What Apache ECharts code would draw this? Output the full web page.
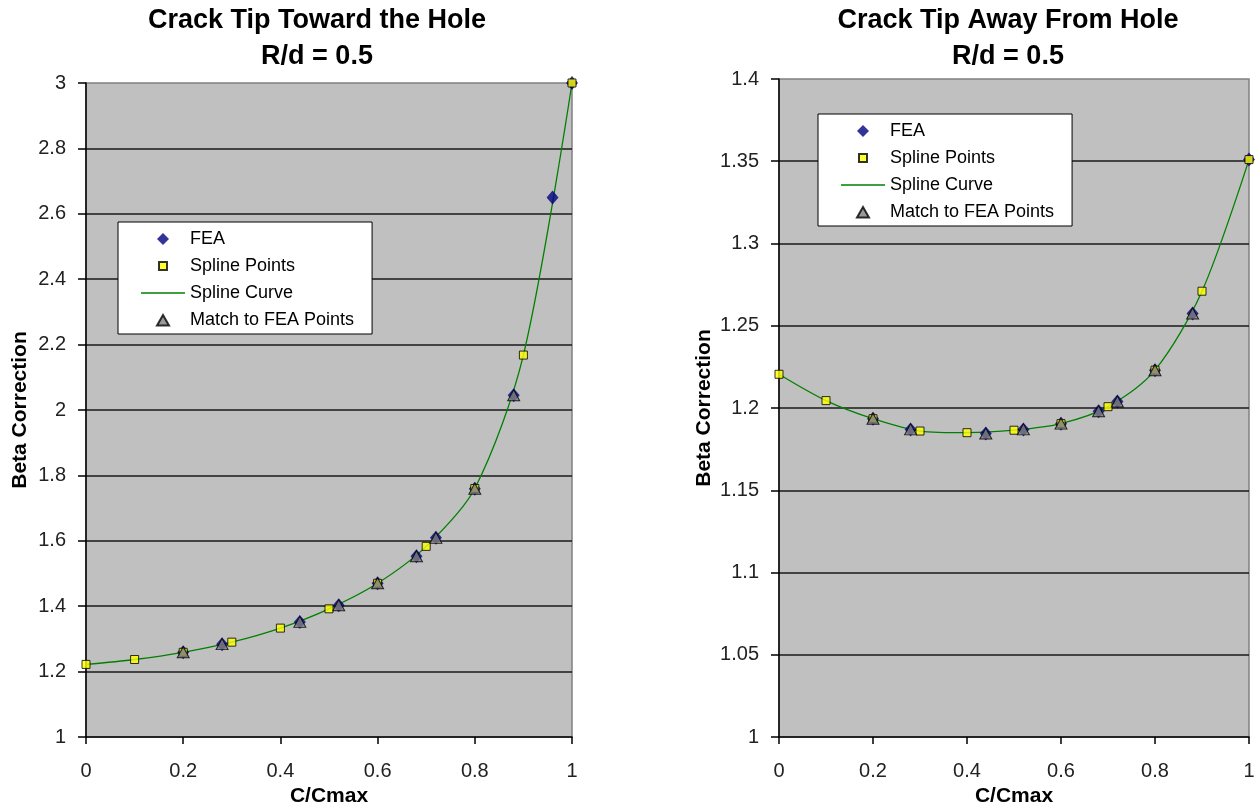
<!DOCTYPE html>
<html>
<head>
<meta charset="utf-8">
<script src="https://cdn.jsdelivr.net/npm/echarts@6/dist/echarts.min.js"></script>
<style>
html,body{margin:0;padding:0;background:#fff;}
#c{width:1258px;height:812px;}
</style>
</head>
<body>
<div id="c"></div>
<script>
// ---- Left chart: Crack Tip Toward the Hole ----
const leftSplineX = [0, 0.1, 0.2, 0.3, 0.4, 0.5, 0.6, 0.7, 0.8, 0.9, 1.0];
const leftSplineY = [1.222, 1.237, 1.259, 1.290, 1.333, 1.392, 1.470, 1.583, 1.760, 2.168, 3.0];
const leftFeaX = [0.2, 0.28, 0.44, 0.52, 0.6, 0.68, 0.72, 0.8, 0.88, 0.96, 1.0];
const leftFeaY = [1.259, 1.284, 1.352, 1.403, 1.470, 1.553, 1.609, 1.759, 2.045, 2.65, 3.0];
const leftMatchX = [0.2, 0.28, 0.44, 0.52, 0.6, 0.68, 0.72, 0.8, 0.88];
const leftMatchY = [1.259, 1.284, 1.352, 1.403, 1.470, 1.553, 1.609, 1.759, 2.045];

// ---- Right chart: Crack Tip Away From Hole ----
const rightSplineX = [0, 0.1, 0.2, 0.3, 0.4, 0.5, 0.6, 0.7, 0.8, 0.9, 1.0];
const rightSplineY = [1.2205, 1.2045, 1.1935, 1.186, 1.185, 1.1865, 1.1905, 1.2008, 1.223, 1.271, 1.351];
const rightFeaX = [0.2, 0.28, 0.44, 0.52, 0.6, 0.68, 0.72, 0.8, 0.88, 1.0];
const rightFeaY = [1.1935, 1.187, 1.1845, 1.187, 1.1905, 1.198, 1.204, 1.223, 1.2575, 1.351];
const rightMatchX = [0.2, 0.28, 0.44, 0.52, 0.6, 0.68, 0.72, 0.8, 0.88];
const rightMatchY = [1.1935, 1.187, 1.1845, 1.187, 1.1905, 1.198, 1.204, 1.223, 1.2575];

const titles = [['Crack Tip Toward the Hole', 'R/d = 0.5'], ['Crack Tip Away From Hole', 'R/d = 0.5']];
const seriesNames = ['FEA', 'Spline Points', 'Spline Curve', 'Match to FEA Points'];
const xAxisName = 'C/Cmax';
const yAxisName = 'Beta Correction';

const FONT = '"Liberation Sans", Arial, sans-serif';
const pairs = (xs, ys) => xs.map((x, i) => [x, ys[i]]);

function xAxisFor(gi) {
  return {
    type: 'value', gridIndex: gi, min: 0, max: 1, interval: 0.2,
    name: xAxisName, nameLocation: 'middle', nameGap: 49,
    nameTextStyle: { fontFamily: FONT, fontSize: 21, fontWeight: 'bold', color: '#000' },
    axisLine: { show: true, onZero: false, lineStyle: { color: '#000', width: 1.5 } },
    axisTick: { show: true, length: 7, lineStyle: { color: '#000', width: 1.5 } },
    axisLabel: { margin: 24, fontFamily: FONT, fontSize: 20, color: '#222' },
    splitLine: { show: false }
  };
}
function yAxisFor(gi, min, max, interval, gap) {
  return {
    type: 'value', gridIndex: gi, min: min, max: max, interval: interval,
    name: yAxisName, nameLocation: 'middle', nameGap: gap,
    nameTextStyle: { fontFamily: FONT, fontSize: 21, fontWeight: 'bold', color: '#000' },
    axisLine: { show: true, onZero: false, lineStyle: { color: '#000', width: 1.5 } },
    axisTick: { show: true, length: 8, lineStyle: { color: '#000', width: 1.5 } },
    axisLabel: { margin: 20, fontFamily: FONT, fontSize: 20, color: '#222' },
    splitLine: { show: true, showMinLine: false, showMaxLine: false, lineStyle: { color: '#1a1a1a', width: 1.5 } }
  };
}
function seriesFor(gi, sx, sy, fx, fy, mx, my) {
  return [
    { name: 'Spline Curve', type: 'line', xAxisIndex: gi, yAxisIndex: gi, data: pairs(sx, sy),
      smooth: 0.3, showSymbol: false, symbol: 'none', z: 2,
      lineStyle: { color: '#008000', width: 1.3 }, itemStyle: { color: '#008000' } },
    { name: 'FEA', type: 'scatter', xAxisIndex: gi, yAxisIndex: gi, data: pairs(fx, fy),
      symbol: 'diamond', symbolSize: [12, 14], z: 3,
      itemStyle: { color: '#000080' } },
    { name: 'Spline Points', type: 'scatter', xAxisIndex: gi, yAxisIndex: gi, data: pairs(sx, sy),
      symbol: 'rect', symbolSize: 8, z: 4,
      itemStyle: { color: '#ffff00', borderColor: '#000', borderWidth: 1 } },
    { name: 'Match to FEA Points', type: 'scatter', xAxisIndex: gi, yAxisIndex: gi, data: pairs(mx, my),
      symbol: 'triangle', symbolSize: [12, 11], z: 5,
      itemStyle: { color: '#808080', borderColor: '#000', borderWidth: 1 } }
  ];
}
function legendFor(left, top) {
  return {
    orient: 'vertical', left: left, top: top,
    backgroundColor: '#fff', borderColor: '#000', borderWidth: 1,
    padding: [8, 18, 5, 22], itemWidth: 44, itemHeight: 13, itemGap: 9,
    selectedMode: false,
    textStyle: { fontFamily: FONT, fontSize: 18, color: '#000', lineHeight: 17 },
    data: [
      { name: 'FEA', icon: 'path://M0 0M44 13M22 0.5L28 6.5L22 12.5L16 6.5Z' },
      { name: 'Spline Points', icon: 'path://M0 0M44 13M18 2.5h8v8h-8z' },
      { name: 'Spline Curve', icon: 'path://M0 0M44 13M0 5.8h44v1.4h-44z' },
      { name: 'Match to FEA Points', icon: 'path://M0 0M44 13M22 1.5L28 12H16Z' }
    ]
  };
}
function titleFor(i, center) {
  return {
    text: titles[i][0] + '\n' + titles[i][1],
    left: center, top: -2, textAlign: 'center',
    textStyle: { fontFamily: FONT, fontSize: 27, fontWeight: 'bold', color: '#000', lineHeight: 36 }
  };
}

const option = {
  backgroundColor: '#fff',
  animation: false,
  title: [titleFor(0, 312), titleFor(1, 1003)],
  legend: [legendFor(118, 222), legendFor(818, 114)],
  grid: [
    { left: 86, top: 83, width: 486, height: 656, show: true, backgroundColor: '#c0c0c0', borderColor: '#808080', borderWidth: 1.5 },
    { left: 779, top: 79, width: 470, height: 660, show: true, backgroundColor: '#c0c0c0', borderColor: '#808080', borderWidth: 1.5 }
  ],
  xAxis: [xAxisFor(0), xAxisFor(1)],
  yAxis: [yAxisFor(0, 1, 3, 0.2, 55), yAxisFor(1, 1, 1.4, 0.05, 64)],
  series: [].concat(
    seriesFor(0, leftSplineX, leftSplineY, leftFeaX, leftFeaY, leftMatchX, leftMatchY),
    seriesFor(1, rightSplineX, rightSplineY, rightFeaX, rightFeaY, rightMatchX, rightMatchY)
  )
};

const chart = echarts.init(document.getElementById('c'), null, { renderer: 'canvas' });
chart.setOption(option);
</script>
</body>
</html>
